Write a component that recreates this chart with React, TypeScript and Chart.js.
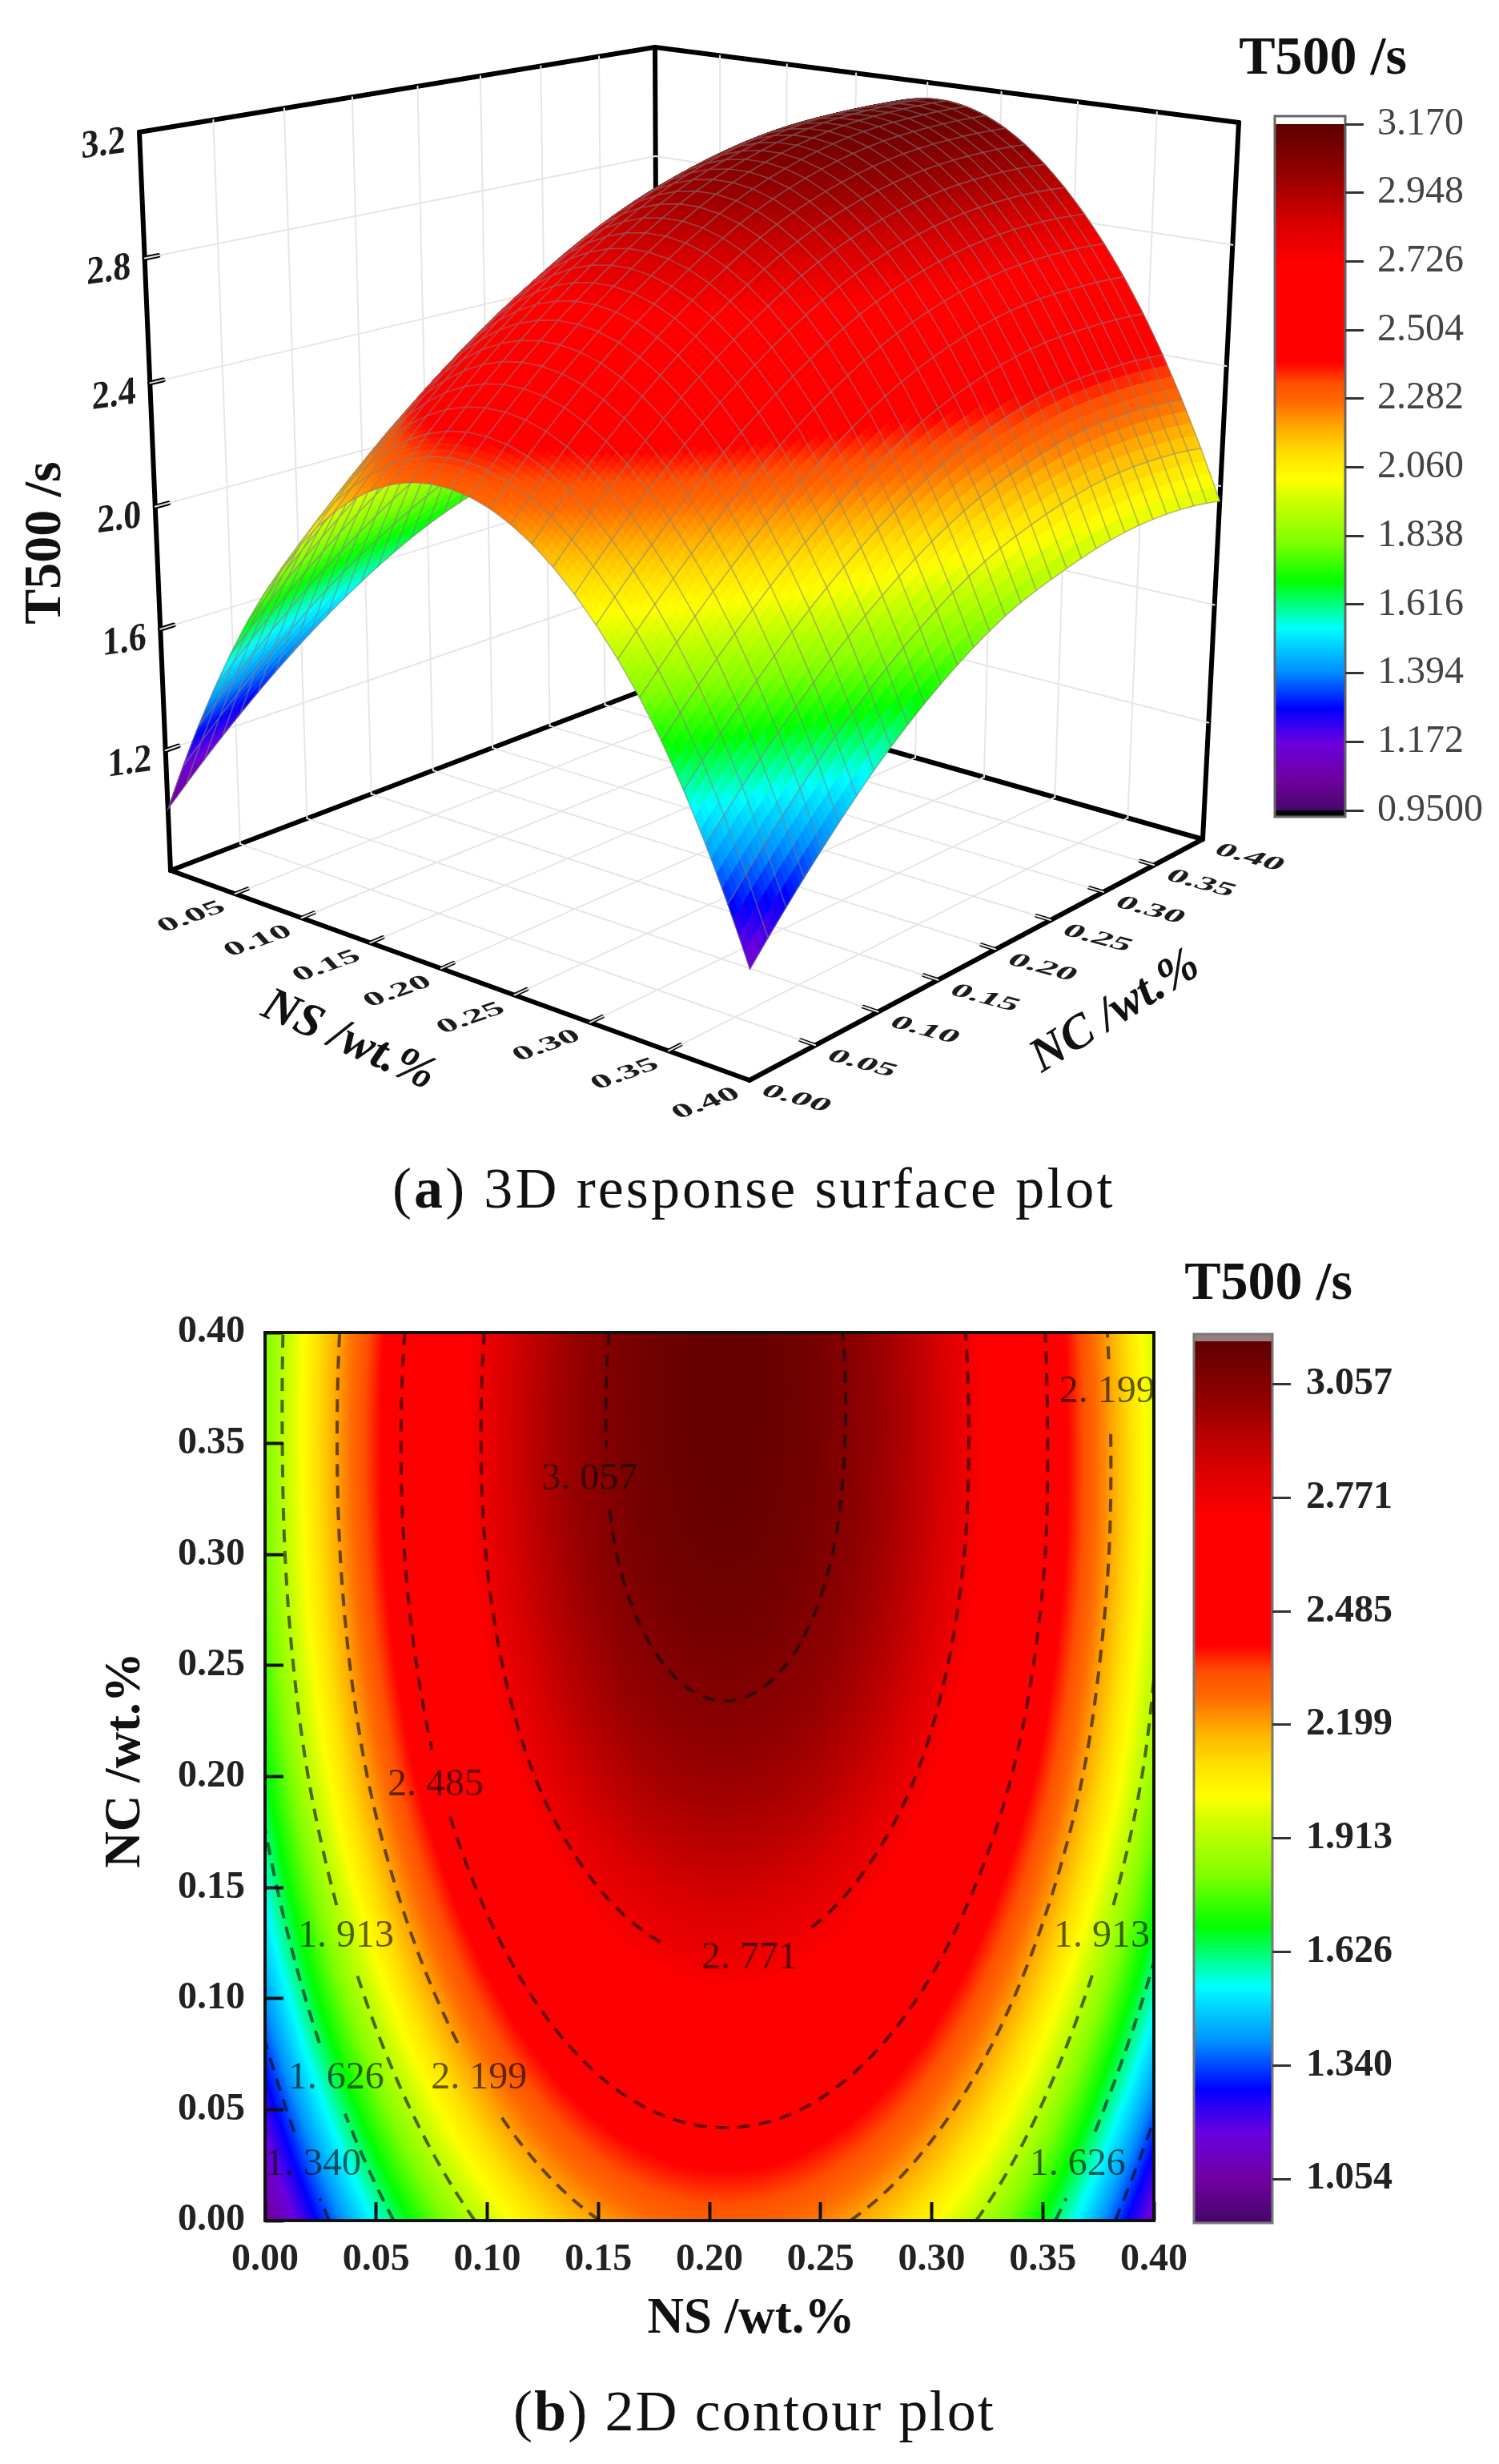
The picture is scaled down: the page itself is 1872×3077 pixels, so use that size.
import React, { useEffect, useRef } from "react";
import { Chart, registerables } from "chart.js";
Chart.register(...registerables);

// ---------- data ----------
const NS_VALUES = [0, 0.05, 0.1, 0.15, 0.2, 0.25, 0.3, 0.35, 0.4];
const NC_VALUES = [0, 0.05, 0.1, 0.15, 0.2, 0.25, 0.3, 0.35, 0.4];
// one row per NC value, one column per NS value
const T500_GRID = [
  [1.005, 1.553, 1.95, 2.197, 2.293, 2.239, 2.035, 1.679, 1.124],
  [1.222, 1.773, 2.173, 2.422, 2.518, 2.464, 2.258, 1.9, 1.361],
  [1.407, 1.961, 2.363, 2.613, 2.71, 2.656, 2.449, 2.089, 1.568],
  [1.559, 2.116, 2.52, 2.771, 2.869, 2.814, 2.606, 2.245, 1.73],
  [1.677, 2.238, 2.644, 2.897, 2.995, 2.94, 2.731, 2.367, 1.85],
  [1.755, 2.318, 2.727, 2.98, 3.078, 3.023, 2.814, 2.448, 1.92],
  [1.8, 2.365, 2.775, 3.03, 3.128, 3.072, 2.862, 2.495, 1.965],
  [1.815, 2.38, 2.79, 3.045, 3.145, 3.09, 2.878, 2.505, 1.975],
  [1.815, 2.365, 2.78, 3.04, 3.145, 3.088, 2.868, 2.495, 1.95],
];
const Z_TICKS = [1.2, 1.6, 2.0, 2.4, 2.8, 3.2];
const AXIS_TICKS_3D = [0.05, 0.1, 0.15, 0.2, 0.25, 0.3, 0.35, 0.4];
const AXIS_TICKS_2D = [0, 0.05, 0.1, 0.15, 0.2, 0.25, 0.3, 0.35, 0.4];
const BAR3D_TICKS = [3.17, 2.948, 2.726, 2.504, 2.282, 2.06, 1.838, 1.616, 1.394, 1.172, 0.95];
const BAR3D_LABELS = ["3.170", "2.948", "2.726", "2.504", "2.282", "2.060", "1.838", "1.616", "1.394", "1.172", "0.9500"];
const BAR2D_TICKS = [3.057, 2.771, 2.485, 2.199, 1.913, 1.626, 1.34, 1.054];
const BAR2D_LABELS = ["3.057", "2.771", "2.485", "2.199", "1.913", "1.626", "1.340", "1.054"];
const CONTOUR_LEVELS = [1.34, 1.626, 1.913, 2.199, 2.485, 2.771, 3.057];
const CONTOUR_LABELS = [
  { ns: 0.146, nc: 0.334, level: 3.057, text: "3. 057" },
  { ns: 0.379, nc: 0.373, level: 2.199, text: "2. 199" },
  { ns: 0.0768, nc: 0.196, level: 2.485, text: "2. 485" },
  { ns: 0.0364, nc: 0.128, level: 1.913, text: "1. 913" },
  { ns: 0.218, nc: 0.118, level: 2.771, text: "2. 771" },
  { ns: 0.032, nc: 0.064, level: 1.626, text: "1. 626" },
  { ns: 0.0963, nc: 0.064, level: 2.199, text: "2. 199" },
  { ns: 0.0216, nc: 0.025, level: 1.34, text: "1. 340" },
  { ns: 0.3766, nc: 0.128, level: 1.913, text: "1. 913" },
  { ns: 0.3657, nc: 0.025, level: 1.626, text: "1. 626" },
];
const CMAP_VALUES = [0.95, 1.05, 1.17, 1.28, 1.4, 1.54, 1.69, 1.82, 1.95, 2.02, 2.1, 2.18, 2.27, 2.33, 2.4, 2.72, 2.85, 3.0, 3.07, 3.18];
const CMAP_COLORS = ["#45086a", "#7000a0", "#6a00e0", "#0000ff", "#0090ff", "#00ffff", "#00ff00", "#80ff00", "#ccff00", "#ffff00", "#ffe000", "#ffb000", "#ff6a00", "#ff5000", "#ff0000", "#ff0000", "#d80000", "#980000", "#800000", "#5a0000"];

// ---------- layout ----------
const SERIF = '"Liberation Serif"';
const P3D = {
  floor: [[213, 1087], [936, 1349], [1502, 1048], [822, 855]],
  top: [[174, 165], [940, 296], [1547, 153], [818, 59]],
};
const Z_MIN = 0.8;
const Z_MAX = 3.2;
const NS_MAX = 0.4;
const MESH_CELLS = 30;
const MESH_SUB = 4;

// ---------- helpers ----------
type Pt = { x: number; y: number };

function homography(q: number[][]) {
  const [p00, p10, p11, p01] = q;
  const dx1 = p10[0] - p11[0], dx2 = p01[0] - p11[0], sx = p00[0] - p10[0] + p11[0] - p01[0];
  const dy1 = p10[1] - p11[1], dy2 = p01[1] - p11[1], sy = p00[1] - p10[1] + p11[1] - p01[1];
  const den = dx1 * dy2 - dx2 * dy1;
  const g = (sx * dy2 - dx2 * sy) / den;
  const h = (dx1 * sy - sx * dy1) / den;
  const a = p10[0] - p00[0] + g * p10[0], b = p01[0] - p00[0] + h * p01[0], c = p00[0];
  const d = p10[1] - p00[1] + g * p10[1], e = p01[1] - p00[1] + h * p01[1], f = p00[1];
  return (u: number, v: number) => {
    const w = g * u + h * v + 1;
    return [(a * u + b * v + c) / w, (d * u + e * v + f) / w];
  };
}
const floorH = homography(P3D.floor);
const topH = homography(P3D.top);
function project(ns: number, nc: number, z: number): Pt {
  const u = ns / NS_MAX, v = nc / NS_MAX;
  const t = (z - Z_MIN) / (Z_MAX - Z_MIN);
  const k = 0.971;
  const s = (k * t) / (1 + (k - 1) * t);
  const a = floorH(u, v), b = topH(u, v);
  return { x: a[0] + s * (b[0] - a[0]), y: a[1] + s * (b[1] - a[1]) };
}

function cubic(p0: number, p1: number, p2: number, p3: number, t: number) {
  return 0.5 * (2 * p1 + (p2 - p0) * t + (2 * p0 - 5 * p1 + 4 * p2 - p3) * t * t + (3 * p1 - p0 - 3 * p2 + p3) * t * t * t);
}
function smooth1(vals: (i: number) => number, n: number, pos: number) {
  let i = Math.floor(pos);
  if (i >= n - 1) i = n - 2;
  if (i < 0) i = 0;
  const t = pos - i;
  const get = (k: number) => {
    if (k < 0) return 3 * vals(0) - 3 * vals(1) + vals(2);
    if (k >= n) return 3 * vals(n - 1) - 3 * vals(n - 2) + vals(n - 3);
    return vals(k);
  };
  return cubic(get(i - 1), get(i), get(i + 1), get(i + 2), t);
}
// shading of the table of read values (the same way an image is smoothed when drawn)
function shade(ns: number, nc: number) {
  const px = (ns / NS_VALUES[NS_VALUES.length - 1]) * (NS_VALUES.length - 1);
  const py = (nc / NC_VALUES[NC_VALUES.length - 1]) * (NC_VALUES.length - 1);
  return smooth1((r) => smooth1((c) => T500_GRID[r][c], NS_VALUES.length, px), NC_VALUES.length, py);
}

const cmapRgb = CMAP_COLORS.map((c) => [parseInt(c.slice(1, 3), 16), parseInt(c.slice(3, 5), 16), parseInt(c.slice(5, 7), 16)]);
function colorRgb(v: number) {
  const n = CMAP_VALUES.length;
  if (v <= CMAP_VALUES[0]) return cmapRgb[0];
  if (v >= CMAP_VALUES[n - 1]) return cmapRgb[n - 1];
  let i = 0;
  while (v > CMAP_VALUES[i + 1]) i++;
  const t = (v - CMAP_VALUES[i]) / (CMAP_VALUES[i + 1] - CMAP_VALUES[i]);
  return cmapRgb[i].map((c, k) => c + t * (cmapRgb[i + 1][k] - c));
}
const colorCss = (v: number) => {
  const c = colorRgb(v);
  return `rgb(${c[0] | 0},${c[1] | 0},${c[2] | 0})`;
};

function contourLines(level: number): Pt[][] {
  const G = 200;
  const step = NS_MAX / G;
  const val: number[][] = [];
  for (let j = 0; j <= G; j++) {
    const row: number[] = [];
    for (let i = 0; i <= G; i++) row.push(shade(i * step, j * step));
    val.push(row);
  }
  const nodes = new Map<string, { pt: Pt; nb: string[] }>();
  const node = (k: string, pt: Pt) => {
    if (!nodes.has(k)) nodes.set(k, { pt, nb: [] });
    return nodes.get(k)!;
  };
  for (let j = 0; j < G; j++)
    for (let i = 0; i < G; i++) {
      const a = val[j][i], b = val[j][i + 1], c = val[j + 1][i + 1], d = val[j + 1][i];
      const hits: { k: string; pt: Pt }[] = [];
      if (a < level !== b < level) hits.push({ k: `h${i}_${j}`, pt: { x: (i + (level - a) / (b - a)) * step, y: j * step } });
      if (b < level !== c < level) hits.push({ k: `v${i + 1}_${j}`, pt: { x: (i + 1) * step, y: (j + (level - b) / (c - b)) * step } });
      if (d < level !== c < level) hits.push({ k: `h${i}_${j + 1}`, pt: { x: (i + (level - d) / (c - d)) * step, y: (j + 1) * step } });
      if (a < level !== d < level) hits.push({ k: `v${i}_${j}`, pt: { x: i * step, y: (j + (level - a) / (d - a)) * step } });
      for (let h = 0; h + 1 < hits.length; h += 2) {
        node(hits[h].k, hits[h].pt).nb.push(hits[h + 1].k);
        node(hits[h + 1].k, hits[h + 1].pt).nb.push(hits[h].k);
      }
    }
  const seen = new Set<string>();
  const out: Pt[][] = [];
  const walk = (start: string) => {
    const line: Pt[] = [];
    let cur: string | undefined = start;
    while (cur && !seen.has(cur)) {
      seen.add(cur);
      const n = nodes.get(cur)!;
      line.push(n.pt);
      cur = n.nb.find((x) => !seen.has(x));
    }
    if (line.length > 1) out.push(line);
  };
  nodes.forEach((n, k) => { if (n.nb.length === 1 && !seen.has(k)) walk(k); });
  nodes.forEach((_, k) => { if (!seen.has(k)) walk(k); });
  return out;
}
function splitAtLabels(line: Pt[], level: number): Pt[][] {
  const labels = CONTOUR_LABELS.filter((l) => l.level === level);
  const out: Pt[][] = [];
  let cur: Pt[] = [];
  for (const p of line) {
    const hidden = labels.some((l) => Math.abs(p.x - l.ns) < 0.04 && Math.abs(p.y - l.nc) < 0.014);
    if (hidden) {
      if (cur.length > 1) out.push(cur);
      cur = [];
    } else cur.push(p);
  }
  if (cur.length > 1) out.push(cur);
  return out;
}

type TextItem = { text: string; x: number; y: number; font: string; color: string; m?: number[]; align?: CanvasTextAlign; base?: CanvasTextBaseline; rot?: number };
function textPlugin(items: TextItem[], left: number, top: number) {
  return {
    id: "pageText",
    afterDraw(chart: any) {
      const ctx = chart.ctx as CanvasRenderingContext2D;
      for (const t of items) {
        ctx.save();
        ctx.translate(t.x - left, t.y - top);
        if (t.rot) ctx.rotate(t.rot);
        if (t.m) ctx.transform(t.m[0], t.m[1], t.m[2], t.m[3], 0, 0);
        ctx.font = t.font;
        ctx.fillStyle = t.color;
        ctx.textAlign = t.align || "center";
        ctx.textBaseline = t.base || "middle";
        ctx.fillText(t.text, 0, 0);
        ctx.restore();
      }
    },
  };
}
const noScalePadding = (ax: any) => { ax.paddingLeft = 0; ax.paddingRight = 0; ax.paddingTop = 0; ax.paddingBottom = 0; };

const base = { responsive: false, animation: false as const, devicePixelRatio: 1, plugins: { legend: { display: false }, tooltip: { enabled: false } } };

// ---------- 3D chart ----------
function make3D(canvas: HTMLCanvasElement) {
  const seg = (pts: Pt[], color: string, width: number) => ({ data: pts, showLine: true, borderColor: color, borderWidth: width, pointRadius: 0, borderCapStyle: "round" as const, parsing: false as const });
  const ds: any[] = [];
  const GRID = "#e6e6e6";
  const BLACK = "#000";
  const m = NS_MAX;
  const inner = AXIS_TICKS_3D.slice(0, -1);
  inner.forEach((v) => {
    ds.push(seg([project(v, 0, Z_MIN), project(v, m, Z_MIN)], GRID, 2));
    ds.push(seg([project(0, v, Z_MIN), project(m, v, Z_MIN)], GRID, 2));
    ds.push(seg([project(v, m, Z_MIN), project(v, m, Z_MAX)], GRID, 2));
    ds.push(seg([project(0, v, Z_MIN), project(0, v, Z_MAX)], GRID, 2));
  });
  Z_TICKS.slice(0, -1).forEach((z) => {
    ds.push(seg([project(0, 0, z), project(0, m, z)], GRID, 2));
    ds.push(seg([project(0, m, z), project(m, m, z)], GRID, 2));
  });
  const edges: number[][][] = [
    [[0, 0, Z_MIN], [m, 0, Z_MIN]], [[m, 0, Z_MIN], [m, m, Z_MIN]], [[m, m, Z_MIN], [0, m, Z_MIN]], [[0, m, Z_MIN], [0, 0, Z_MIN]],
    [[0, 0, Z_MIN], [0, 0, Z_MAX]], [[0, m, Z_MIN], [0, m, Z_MAX]], [[m, m, Z_MIN], [m, m, Z_MAX]],
    [[0, 0, Z_MAX], [0, m, Z_MAX]], [[0, m, Z_MAX], [m, m, Z_MAX]],
  ];
  edges.forEach((e) => ds.push(seg(e.map((p) => project(p[0], p[1], p[2])), BLACK, 6)));
  Z_TICKS.slice(0, -1).forEach((z) => ds.push(seg([project(0, 0, z), project(0, 0.009, z)], BLACK, 6)));
  AXIS_TICKS_3D.slice(0, -1).forEach((v) => {
    ds.push(seg([project(v, 0, Z_MIN), project(v, 0.009, Z_MIN)], BLACK, 5));
    ds.push(seg([project(m, v, Z_MIN), project(m - 0.009, v, Z_MIN)], BLACK, 5));
  });

  const surface = {
    id: "surface",
    afterDatasetsDraw(chart: any) {
      const ctx = chart.ctx as CanvasRenderingContext2D;
      const sx = chart.scales.x, sy = chart.scales.y;
      const pix = (ns: number, nc: number) => {
        const p = project(ns, nc, shade(ns, nc));
        return [sx.getPixelForValue(p.x), sy.getPixelForValue(p.y)];
      };
      const cell = NS_MAX / MESH_CELLS;
      const sub = cell / MESH_SUB;
      ctx.save();
      for (let j = MESH_CELLS - 1; j >= 0; j--)
        for (let i = 0; i < MESH_CELLS; i++) {
          const x0 = i * cell, y0 = j * cell;
          for (let b = MESH_SUB - 1; b >= 0; b--)
            for (let a = 0; a < MESH_SUB; a++) {
              const xa = x0 + a * sub, ya = y0 + b * sub;
              const c = colorCss(shade(xa + sub / 2, ya + sub / 2));
              const p1 = pix(xa, ya), p2 = pix(xa + sub, ya), p3 = pix(xa + sub, ya + sub), p4 = pix(xa, ya + sub);
              ctx.beginPath();
              ctx.moveTo(p1[0], p1[1]); ctx.lineTo(p2[0], p2[1]); ctx.lineTo(p3[0], p3[1]); ctx.lineTo(p4[0], p4[1]); ctx.closePath();
              ctx.fillStyle = c; ctx.strokeStyle = c; ctx.lineWidth = 1;
              ctx.fill(); ctx.stroke();
            }
          const q1 = pix(x0, y0), q2 = pix(x0 + cell, y0), q3 = pix(x0 + cell, y0 + cell), q4 = pix(x0, y0 + cell);
          ctx.beginPath();
          ctx.moveTo(q1[0], q1[1]); ctx.lineTo(q2[0], q2[1]); ctx.lineTo(q3[0], q3[1]); ctx.lineTo(q4[0], q4[1]); ctx.closePath();
          ctx.strokeStyle = "rgba(130,130,130,0.5)"; ctx.lineWidth = 1.6;
          ctx.stroke();
        }
      ctx.restore();
    },
  };

  const items: TextItem[] = [];
  const TICKC = "#1c1c1c";
  Z_TICKS.forEach((z) => {
    const p = project(0, 0, z);
    items.push({ text: z.toFixed(1), x: p.x - 45, y: p.y + 16, font: `bold 44px ${SERIF}`, color: TICKC, m: [1, -0.14, 0, 1.12] });
  });
  AXIS_TICKS_3D.forEach((v) => {
    const p = project(v, 0, Z_MIN);
    items.push({ text: v.toFixed(2), x: p.x - 54, y: p.y + 29, font: `bold 42px ${SERIF}`, color: TICKC, m: [1.08, -0.38, 0.46, 0.5] });
  });
  [0, ...AXIS_TICKS_3D].forEach((v) => {
    const p = project(NS_MAX, v, Z_MIN);
    items.push({ text: v.toFixed(2), x: p.x + 58, y: p.y + 23, font: `bold 42px ${SERIF}`, color: TICKC, m: [1.12, 0.3, -0.46, 0.5] });
  });
  items.push({ text: "T500 /s", x: 58, y: 678, font: `bold 66px ${SERIF}`, color: "#111", rot: -Math.PI / 2 });
  items.push({ text: "NS /wt.%", x: 435, y: 1300, font: `italic bold 60px ${SERIF}`, color: "#111", rot: 0.42 });
  items.push({ text: "NC /wt.%", x: 1393, y: 1264, font: `italic bold 60px ${SERIF}`, color: "#111", rot: -0.56 });

  return new Chart(canvas, {
    type: "scatter",
    data: { datasets: ds },
    options: {
      ...base,
      layout: { padding: 0 },
      scales: {
        x: { type: "linear", display: false, min: 0, max: canvas.width },
        y: { type: "linear", display: false, min: 0, max: canvas.height, reverse: true },
      },
    } as any,
    plugins: [surface, textPlugin(items, 0, 0)],
  });
}

// ---------- colour bars ----------
function makeBar(canvas: HTMLCanvasElement, cfg: any) {
  const { left, top, barLeft, barRight, barTop, barBottom, min, max, ticks, labels, font, color, padding, title, capColor, capTop, capBorder, endStrip } = cfg;
  const bar = {
    id: "bar",
    beforeDraw(chart: any) {
      const ctx = chart.ctx as CanvasRenderingContext2D;
      const a = chart.chartArea, sy = chart.scales.y;
      const y0 = sy.getPixelForValue(max), y1 = sy.getPixelForValue(min);
      const g = ctx.createLinearGradient(0, y0, 0, y1);
      CMAP_VALUES.forEach((v, i) => {
        if (v >= min && v <= max) g.addColorStop((max - v) / (max - min), CMAP_COLORS[i]);
      });
      g.addColorStop(0, colorCss(max));
      ctx.fillStyle = g;
      ctx.fillRect(a.left, y0, a.right - a.left, y1 - y0);
      ctx.fillStyle = capColor;
      ctx.fillRect(a.left, capTop, a.right - a.left, cfg.capHeight);
      if (endStrip) {
        ctx.fillStyle = "#050505";
        ctx.fillRect(a.left, y1, a.right - a.left, endStrip);
      }
      ctx.strokeStyle = capBorder;
      ctx.lineWidth = 3;
      ctx.strokeRect(a.left, capTop, a.right - a.left, y1 + (endStrip || 0) - capTop);
    },
  };
  const H = canvas.height, W = canvas.width;
  return new Chart(canvas, {
    type: "scatter",
    data: { datasets: [{ data: ticks.map((v: number) => ({ x: 0, y: v })), pointRadius: 0 }] },
    options: {
      ...base,
      layout: { padding: { left: barLeft - left, top: barTop - top, bottom: top + H - barBottom, right: 0 } },
      scales: {
        x: { type: "linear", display: false, min: 0, max: 1 },
        y: {
          type: "linear",
          position: "right",
          min,
          max,
          afterBuildTicks: (ax: any) => { ax.ticks = ticks.map((v: number) => ({ value: v })); },
          afterFit: (ax: any) => { ax.width = left + W - barRight; noScalePadding(ax); },
          border: { display: false },
          grid: { drawOnChartArea: false, drawTicks: true, tickLength: 23, tickColor: "#333", tickWidth: 3 },
          ticks: { autoSkip: false, color, font, padding, callback: (v: number) => { const i = ticks.findIndex((t: number) => Math.abs(t - v) < 1e-6); return i >= 0 ? labels[i] : ""; } },
        },
      },
    } as any,
    plugins: [textPlugin([title], left, top), bar],
  });
}

// ---------- 2D contour chart ----------
function makeContour(canvas: HTMLCanvasElement, left: number, top: number, area: { l: number; r: number; t: number; b: number }) {
  const heat = {
    id: "heat",
    beforeDraw(chart: any) {
      const ctx = chart.ctx as CanvasRenderingContext2D;
      const sx = chart.scales.x, sy = chart.scales.y;
      const N = 370;
      const off = document.createElement("canvas");
      off.width = N; off.height = N;
      const oc = off.getContext("2d")!;
      const img = oc.createImageData(N, N);
      for (let j = 0; j < N; j++)
        for (let i = 0; i < N; i++) {
          const c = colorRgb(shade(((i + 0.5) / N) * NS_MAX, (1 - (j + 0.5) / N) * NS_MAX));
          const o = (j * N + i) * 4;
          img.data[o] = c[0]; img.data[o + 1] = c[1]; img.data[o + 2] = c[2]; img.data[o + 3] = 255;
        }
      oc.putImageData(img, 0, 0);
      const x0 = sx.getPixelForValue(0), x1 = sx.getPixelForValue(NS_MAX), y0 = sy.getPixelForValue(NS_MAX), y1 = sy.getPixelForValue(0);
      ctx.imageSmoothingEnabled = true;
      ctx.drawImage(off, x0, y0, x1 - x0, y1 - y0);
    },
  };
  const frame = {
    id: "frameAndLabels",
    afterDatasetsDraw(chart: any) {
      const ctx = chart.ctx as CanvasRenderingContext2D;
      const a = chart.chartArea, sx = chart.scales.x, sy = chart.scales.y;
      ctx.save();
      ctx.beginPath();
      ctx.rect(a.left, a.top, a.right - a.left, a.bottom - a.top);
      ctx.clip();
      ctx.font = `48px ${SERIF}`;
      ctx.fillStyle = "rgba(0,0,0,0.62)";
      ctx.textAlign = "center";
      ctx.textBaseline = "middle";
      CONTOUR_LABELS.forEach((l) => ctx.fillText(l.text, sx.getPixelForValue(l.ns), sy.getPixelForValue(l.nc)));
      ctx.restore();
      ctx.strokeStyle = "#111";
      ctx.lineWidth = 4;
      ctx.strokeRect(a.left, a.top, a.right - a.left, a.bottom - a.top);
    },
  };
  const ds: any[] = [];
  CONTOUR_LEVELS.forEach((lv) => {
    contourLines(lv).forEach((line) => {
      splitAtLabels(line, lv).forEach((part) => {
        ds.push({ data: part, showLine: true, parsing: false, borderColor: "rgba(10,10,20,0.62)", borderWidth: 4, borderDash: [16, 11], pointRadius: 0 });
      });
    });
  });
  const axisCommon = {
    type: "linear",
    min: 0,
    max: NS_MAX,
    afterBuildTicks: (ax: any) => { ax.ticks = AXIS_TICKS_2D.map((v) => ({ value: v })); },
    border: { display: false },
    grid: { drawOnChartArea: false, drawTicks: true, tickLength: -23, tickColor: "#111", tickWidth: 4 },
  };
  const tickFont = { family: SERIF, size: 48, weight: "bold" };
  const items: TextItem[] = [
    { text: "NS /wt.%", x: 938, y: 2897, font: `bold 63px ${SERIF}`, color: "#111" },
    { text: "NC /wt.%", x: 158, y: 2198, font: `bold 63px ${SERIF}`, color: "#111", rot: -Math.PI / 2 },
  ];
  return new Chart(canvas, {
    type: "scatter",
    data: { datasets: ds },
    options: {
      ...base,
      layout: { padding: { left: 0, top: area.t - top, right: left + canvas.width - area.r, bottom: 0 } },
      scales: {
        x: {
          ...axisCommon,
          afterFit: (ax: any) => { ax.height = top + canvas.height - area.b; noScalePadding(ax); },
          ticks: { autoSkip: false, maxRotation: 0, color: "#222", font: tickFont, padding: 44, callback: (v: number) => Number(v).toFixed(2) },
        },
        y: {
          ...axisCommon,
          afterFit: (ax: any) => { ax.width = area.l - left; noScalePadding(ax); },
          ticks: { autoSkip: false, color: "#222", font: tickFont, padding: 48, callback: (v: number) => Number(v).toFixed(2) },
        },
      },
    } as any,
    plugins: [heat, frame, textPlugin(items, left, top)],
  });
}

const capStyle: React.CSSProperties = { position: "absolute", whiteSpace: "nowrap", fontFamily: SERIF, fontSize: 72, lineHeight: "80px", color: "#111" };

export default function App() {
  const c3d = useRef<HTMLCanvasElement>(null);
  const cBarA = useRef<HTMLCanvasElement>(null);
  const cHeat = useRef<HTMLCanvasElement>(null);
  const cBarB = useRef<HTMLCanvasElement>(null);

  useEffect(() => {
    const charts = [
      make3D(c3d.current!),
      makeBar(cBarA.current!, {
        left: 1530, top: 40, barLeft: 1592, barRight: 1680, barTop: 155, barBottom: 1012, min: 0.95, max: 3.17,
        ticks: BAR3D_TICKS, labels: BAR3D_LABELS, font: { family: SERIF, size: 48 }, color: "#444", padding: 17,
        capColor: "#fff", capTop: 105, capHeight: 10, capBorder: "#666", endStrip: 8,
        title: { text: "T500 /s", x: 1652, y: 74, font: `bold 68px ${SERIF}`, color: "#111" },
      }),
      makeContour(cHeat.current!, 0, 1610, { l: 331, r: 1441, t: 1664, b: 2773 }),
      makeBar(cBarB.current!, {
        left: 1470, top: 1550, barLeft: 1491, barRight: 1589, barTop: 1666, barBottom: 2776, min: 0.943, max: 3.184,
        ticks: BAR2D_TICKS, labels: BAR2D_LABELS, font: { family: SERIF, size: 48, weight: "bold" }, color: "#222", padding: 19,
        capColor: "#998080", capTop: 116, capHeight: 9, capBorder: "#777",
        title: { text: "T500 /s", x: 1584, y: 1604, font: `bold 68px ${SERIF}`, color: "#111" },
      }),
    ];
    return () => charts.forEach((c) => c.destroy());
  }, []);

  const abs = (l: number, t: number, w: number, h: number): React.CSSProperties => ({ position: "absolute", left: l, top: t, width: w, height: h });
  return (
    <div style={{ position: "absolute", left: 0, top: 0, width: 1872, height: 3077, background: "#fff", overflow: "hidden" }}>
      <canvas ref={c3d} width={1872} height={1480} style={abs(0, 0, 1872, 1480)} />
      <canvas ref={cBarA} width={342} height={1000} style={abs(1530, 40, 342, 1000)} />
      <canvas ref={cHeat} width={1490} height={1330} style={abs(0, 1610, 1490, 1330)} />
      <canvas ref={cBarB} width={402} height={1260} style={abs(1470, 1550, 402, 1260)} />
      <div style={{ ...capStyle, left: 490, top: 1444, letterSpacing: 3.1 }}>(<b>a</b>) 3D response surface plot</div>
      <div style={{ ...capStyle, left: 641, top: 2971, letterSpacing: 2.1 }}>(<b>b</b>) 2D contour plot</div>
    </div>
  );
}
